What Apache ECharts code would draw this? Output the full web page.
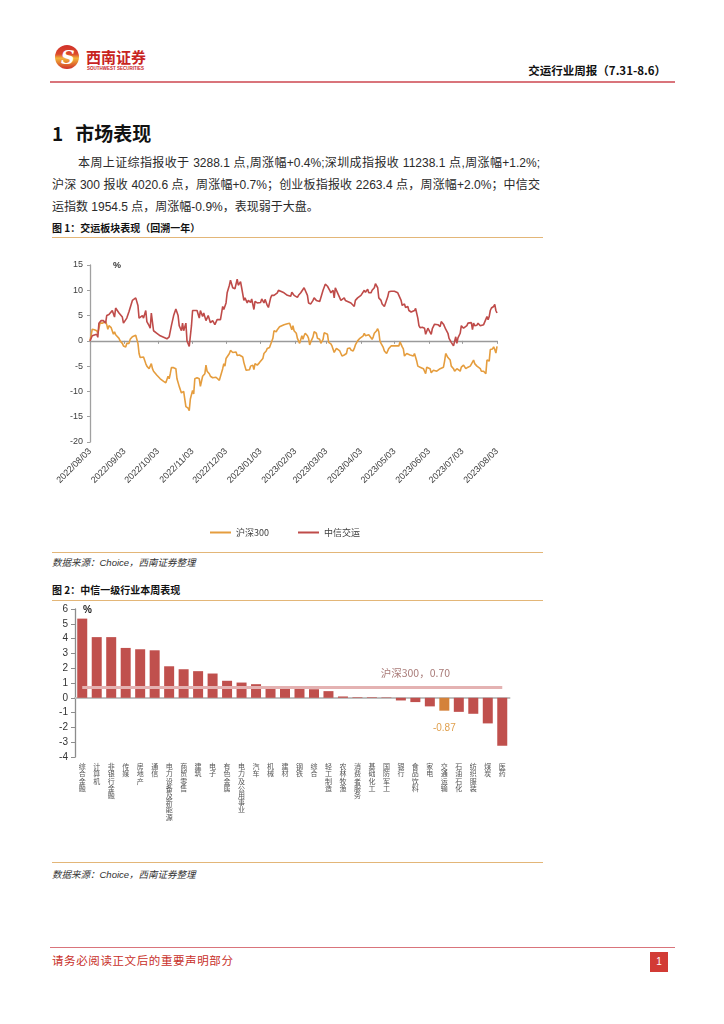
<!DOCTYPE html>
<html><head><meta charset="utf-8">
<script src="https://cdn.jsdelivr.net/npm/echarts@6/dist/echarts.min.js"></script>
<style>
html,body{margin:0;padding:0;background:#fff}
body{width:724px;height:1024px;position:relative;overflow:hidden;font-family:"Liberation Sans","Noto Sans CJK SC",sans-serif;color:#222}
.abs{position:absolute;white-space:nowrap}
.rule{position:absolute;height:0}
.cap{font-size:10px;font-weight:bold;color:#111;font-family:"Noto Sans CJK SC",sans-serif}
.src{font-size:9.5px;font-style:italic;color:#333}
.para{font-size:12px;color:#2a2a2a;line-height:22px}
.just{text-align:justify;text-align-last:justify;white-space:normal}
</style></head>
<body>
<!-- header logo -->
<div class="abs" style="left:55px;top:45px;width:24px;height:24px;border-radius:50%;background:linear-gradient(180deg,#D0302A 0%,#DC4A2C 38%,#F2B33C 55%,#E78A32 70%,#CF2F2A 100%)"></div>
<div class="abs" style="left:61px;top:46px;font-size:19px;font-weight:bold;color:#fff;font-family:'DejaVu Serif',serif;font-style:italic;line-height:22px">S</div>
<div class="abs" style="left:86px;top:47px;font-size:15px;font-weight:bold;color:#C8241E;font-family:'Noto Sans CJK SC';letter-spacing:0px;line-height:20px">西南证券</div>
<div class="abs" style="left:87px;top:66px;font-size:4.5px;font-weight:bold;color:#C8241E;line-height:6px">SOUTHWEST SECURITIES</div>
<div class="abs" style="right:58px;top:62px;font-size:11.5px;font-weight:bold;color:#111;font-family:'Noto Sans CJK SC';line-height:16px">交运行业周报（7.31-8.6）</div>
<div class="rule" style="left:50px;top:81px;width:625px;border-top:2px solid #D9747B"></div>

<div class="abs" style="left:52px;top:121px;font-size:19px;font-weight:bold;color:#111;font-family:'Noto Sans CJK SC';line-height:24px">1<span style="display:inline-block;width:12px"></span>市场表现</div>
<div class="abs para just" style="left:78px;top:152px;width:462px">本周上证综指报收于 3288.1 点,周涨幅+0.4%;深圳成指报收 11238.1 点,周涨幅+1.2%;</div>
<div class="abs para just" style="left:52px;top:174px;width:488px">沪深 300 报收 4020.6 点，周涨幅+0.7%；创业板指报收 2263.4 点，周涨幅+2.0%；中信交</div>
<div class="abs para" style="left:52px;top:196px">运指数 1954.5 点，周涨幅-0.9%，表现弱于大盘。</div>

<div class="abs cap" style="left:52px;top:220px;line-height:16px">图 1：交运板块表现（回溯一年）</div>
<div class="rule" style="left:52px;top:237px;width:491px;border-top:1.5px solid #E3B678"></div>
<div id="c1" class="abs" style="left:52px;top:240px;width:491px;height:312px"></div>
<div class="rule" style="left:52px;top:552px;width:491px;border-top:1.5px solid #E3B678"></div>
<div class="abs src" style="left:52px;top:556px;line-height:14px">数据来源：Choice，西南证券整理</div>

<div class="abs cap" style="left:52px;top:582px;line-height:16px">图 2：中信一级行业本周表现</div>
<div class="rule" style="left:52px;top:600px;width:491px;border-top:1.5px solid #E3B678"></div>
<div id="c2" class="abs" style="left:52px;top:602px;width:491px;height:258px"></div>
<div class="rule" style="left:52px;top:862px;width:491px;border-top:1.5px solid #E3B678"></div>
<div class="abs src" style="left:52px;top:868px;line-height:14px">数据来源：Choice，西南证券整理</div>

<div class="rule" style="left:50px;top:947px;width:625px;border-top:1.5px solid #D9747B"></div>
<div class="abs" style="left:52px;top:951px;font-size:11.5px;color:#C8302A;font-family:'Noto Sans CJK SC';line-height:18px;letter-spacing:0.6px">请务必阅读正文后的重要声明部分</div>
<div class="abs" style="left:650px;top:952px;width:18px;height:20px;background:#D23B35;color:#fff;font-size:10px;text-align:center;line-height:20px">1</div>

<script>
// ---------- Figure 1 data (x = calendar days after 2022/08/03, y = % change) ----------
const startYear = 2022, startMonth = 8, startDay = 3;
const dayCount = 366;
const seriesNames = ['沪深300', '中信交运'];
const yAxis1 = { min: -20, max: 15, interval: 5 };

const hs300 = [[0,0],[2,2.3],[3,2],[4,2.2],[6,2],[7,1.5],[8,2.5],[9,3.5],[11,3.5],[12,3.3],[14,3.8],[15,3.2],[16,2.3],[17,3],[19,2.6],[20,2.5],[21,1.3],[22,1.8],[23,1.2],[24,1],[26,0.5],[27,0],[29,-0.5],[30,-1],[32,-1.2],[33,-0.5],[35,-0.5],[36,0.3],[38,0.8],[39,1],[41,1.1],[43,-0.5],[44,-2.5],[45,-3.3],[46,-3.3],[48,-3.2],[50,-4.5],[51,-5],[53,-5.5],[54,-5.5],[55,-4.5],[56,-5.5],[57,-6],[60,-6.8],[63,-7.5],[66,-8],[68,-8.3],[69,-8.5],[70,-7],[71,-7.5],[72,-6.5],[73,-5.3],[75,-5.3],[77,-5.5],[78,-7.5],[79,-7.7],[80,-9],[82,-10.3],[83,-10.5],[84,-10],[85,-11.5],[86,-13],[88,-13.3],[89,-13.8],[90,-11.5],[92,-9.8],[93,-10.5],[94,-7.5],[96,-7.3],[98,-7.5],[99,-9],[100,-9.3],[101,-7],[102,-6.8],[103,-6.5],[104,-4.8],[105,-6],[107,-6.5],[108,-7],[110,-7.3],[111,-7.2],[113,-7.2],[114,-7.5],[116,-7.8],[117,-8],[119,-5.5],[120,-4.5],[121,-5],[122,-3.5],[123,-3.3],[125,-2.5],[126,-1.9],[128,-2.3],[129,-2.5],[131,-2.2],[132,-2.9],[134,-2.8],[135,-3],[137,-3.2],[138,-4.3],[140,-5.8],[141,-5.8],[143,-5.7],[144,-5],[146,-4.8],[147,-5.7],[148,-4.5],[150,-4.8],[152,-4.3],[153,-4.3],[155,-3.5],[156,-2.5],[158,-2],[159,-1.5],[161,-1.3],[162,-1.2],[164,0.5],[165,2],[167,1.8],[168,2.2],[170,2.8],[171,3.1],[174,3.2],[177,3.4],[179,3.5],[180,3.2],[181,2.2],[182,3],[183,2],[185,1.5],[186,0.5],[188,-0.5],[189,-0.2],[190,1],[191,0.3],[192,1],[193,1.5],[194,1.8],[195,1],[196,0.5],[197,-0.8],[198,-0.2],[200,0.8],[201,1.8],[203,1.5],[204,0.5],[206,0.3],[207,-0.5],[208,-0.8],[209,0.3],[210,1.6],[211,1.3],[213,1.3],[214,-0.3],[215,-0.5],[216,-0.6],[217,-1],[219,-2.3],[220,-2],[221,-1.5],[222,-1.8],[224,-2],[225,-2.5],[226,-3],[228,-2.8],[229,-3],[230,-2.5],[231,-1.5],[232,-1.2],[233,-1.4],[234,-1.8],[236,-2],[237,-1.5],[238,-0.8],[239,-0.5],[240,0],[242,0.5],[243,0.8],[245,1],[246,1.5],[247,1],[248,1.3],[250,1.2],[251,1],[253,0.3],[254,0.8],[255,1.5],[257,2],[258,2.4],[259,1.8],[260,0],[261,-0.5],[263,-1.3],[264,-2],[266,-2.5],[267,-2.4],[268,-1.5],[270,-1],[272,-1],[273,-0.9],[275,-1],[276,-1.3],[277,-1],[278,-0.2],[279,-0.5],[280,-1.2],[281,-1.6],[282,-3],[283,-3.2],[284,-2.5],[285,-2.2],[287,-2.8],[288,-2.6],[290,-3],[291,-2.5],[292,-2.8],[293,-4],[294,-5],[296,-5.2],[297,-5.3],[299,-5.5],[300,-6],[301,-6.5],[302,-5.2],[303,-5.3],[305,-5.5],[306,-6.3],[307,-6.6],[308,-5.8],[309,-5.5],[311,-6],[312,-5.8],[314,-5.5],[315,-5.4],[317,-5.2],[318,-4],[319,-2.5],[320,-2.7],[321,-3.3],[323,-3.8],[324,-5],[325,-5.2],[326,-5.5],[327,-6],[328,-6.2],[329,-5.5],[330,-5.8],[332,-6],[333,-5.2],[334,-5],[335,-4.8],[336,-4.5],[337,-5.5],[338,-5.7],[339,-5.2],[340,-5.5],[341,-5],[343,-4.2],[344,-3.8],[345,-4.5],[347,-5],[348,-5.3],[350,-5.5],[351,-6],[353,-6],[354,-6.3],[355,-6.5],[356,-3.8],[357,-3.5],[358,-4],[359,-1.7],[361,-1.6],[362,-1.2],[363,-1.7],[364,-2.4],[365,-1.1]];

const citicTransport = [[0,0],[2,1],[3,1.3],[6,1.3],[7,0.7],[8,3.5],[10,4],[12,4],[14,3.5],[15,5],[17,5.2],[20,6],[21,6.3],[22,4.7],[23,6.5],[26,5.5],[27,5.8],[29,4.7],[30,3.5],[33,4.5],[35,5.8],[38,8],[41,8.5],[42,8.7],[43,7],[44,4.5],[47,5],[48,4.5],[50,6],[51,3.8],[53,3],[54,2.5],[55,5.5],[57,2],[60,1.5],[63,1],[69,0.4],[71,0.8],[73,3],[75,5],[77,6.3],[79,5],[80,3],[82,2],[83,3.5],[84,2],[86,3.5],[87,0],[89,-1.1],[91,3],[92,6],[96,6],[98,4.5],[99,6],[101,4.8],[102,5.5],[104,4],[106,5],[108,3.6],[110,4],[112,3.2],[114,4.2],[117,4.2],[119,6.8],[120,6.2],[122,7.5],[123,9.5],[125,11],[126,12],[128,10.5],[130,10.3],[132,12.2],[133,11],[135,11.7],[136,10.5],[138,8],[139,8.5],[141,7.5],[142,8],[144,7.6],[145,8.3],[147,6.2],[148,7.8],[150,7.5],[153,7.6],[154,8.3],[156,7.5],[157,8.2],[159,7],[160,6.6],[162,8.5],[163,9],[165,9],[166,8.8],[168,9.5],[169,10],[171,9.8],[174,9.5],[177,9],[180,8.8],[181,9.6],[183,9],[184,8.8],[186,8.6],[187,9],[189,9.5],[192,10.5],[193,10.8],[195,9],[196,7.5],[197,7.6],[198,7.3],[200,8],[201,8.5],[203,8],[204,7.8],[206,7.8],[207,8],[209,10],[211,11.2],[213,10.8],[215,10],[216,9.5],[218,10],[219,8.5],[220,10.5],[222,9.5],[223,9],[225,8],[228,8.5],[229,8],[231,7.8],[232,8],[234,7.5],[235,7.2],[237,6.8],[238,8],[240,8.5],[243,9],[244,9.2],[246,10],[247,9.6],[249,10.2],[250,9.5],[252,9.5],[253,10],[255,10.5],[256,11.3],[258,10.5],[259,8.5],[261,8],[262,7.3],[264,6.8],[265,7],[267,8.7],[268,9.7],[270,9.8],[273,9.8],[276,9.5],[277,9.5],[279,8],[280,7],[282,7.3],[283,6.6],[285,6.8],[286,6],[288,5.7],[289,5.6],[291,6],[292,6.4],[294,4.5],[295,3],[296,2.6],[298,2.7],[300,2.5],[301,1.3],[303,2.5],[304,2.5],[306,1.3],[307,2.4],[309,3.3],[312,3.2],[314,2.8],[315,3.8],[317,3.3],[319,2.3],[321,1.5],[322,0.5],[324,-0.3],[326,-1],[328,0.8],[329,-0.5],[330,0.6],[332,1.5],[333,3],[335,2.5],[336,2.2],[338,3],[339,3.5],[340,3.3],[342,3.6],[343,2.2],[344,3.5],[345,3],[347,3.1],[348,3.5],[350,3],[351,3],[353,3.2],[354,3],[356,4.8],[357,4.2],[358,4.8],[359,6],[360,6.5],[362,6.8],[363,7.2],[364,6],[365,5.5]];

// ---------- Figure 2 data ----------
const industries = ['综合金融','计算机','非银行金融','传媒','房地产','通信','电力设备及新能源','商贸零售','建筑','电子','有色金属','电力及公用事业','汽车','机械','建材','钢铁','综合','轻工制造','农林牧渔','消费者服务','基础化工','国防军工','银行','食品饮料','家电','交通运输','石油石化','纺织服装','煤炭','医药'];
const weeklyChange = [5.35,4.1,4.1,3.37,3.28,3.21,2.13,1.93,1.8,1.64,1.15,1.03,0.92,0.75,0.72,0.63,0.58,0.45,0.09,0.04,0.04,0.03,-0.18,-0.29,-0.58,-0.87,-0.95,-1.08,-1.73,-3.24];
const highlightIndustry = '交通运输';
const benchmarkName = '沪深300';
const benchmarkValue = 0.70;
const yAxis2 = { min: -4, max: 6, interval: 1 };

// ---------- build ----------
function pad(n){ return String(n).padStart(2,'0'); }
const dates = [];
for (let i = 0; i < dayCount; i++) {
  const d = new Date(startYear, startMonth - 1, startDay + i);
  dates.push(d.getFullYear() + '/' + pad(d.getMonth() + 1) + '/' + pad(d.getDate()));
}
const isMonthTick = (idx, val) => dates[idx].endsWith('/' + pad(startDay));

const RED = '#BF4B49', ORANGE = '#E59D3E';
const c1 = echarts.init(document.getElementById('c1'), null, { renderer: 'canvas' });
c1.setOption({
  animation: false,
  grid: { left: 38, top: 25, width: 407, height: 177, containLabel: false },
  legend: {
    left: 153, top: 283, icon: 'rect', itemWidth: 21, itemHeight: 2, itemGap: 29,
    textStyle: { fontSize: 9, color: '#404040', fontFamily: 'Noto Sans CJK SC' },
    data: seriesNames
  },
  graphic: [{ type: 'text', left: 61, top: 21, style: { text: '%', fontSize: 9, fontWeight: 'bold', fill: '#333', fontFamily: 'Liberation Sans' } }],
  xAxis: [
    { type: 'category', data: dates, boundaryGap: false,
      axisLine: { show: false, onZero: false }, axisTick: { show: false },
      axisLabel: { interval: isMonthTick, rotate: 45, margin: 8, fontSize: 9, color: '#404040', fontFamily: 'Liberation Sans' } },
    { type: 'category', data: dates, boundaryGap: false, position: 'bottom',
      axisLine: { show: true, onZero: true, onZeroAxisIndex: 0, lineStyle: { color: '#9A9A9A', width: 1.3 } },
      axisTick: { show: true, interval: isMonthTick, length: 3, lineStyle: { color: '#9A9A9A' } },
      axisLabel: { show: false } }
  ],
  yAxis: {
    type: 'value', min: yAxis1.min, max: yAxis1.max, interval: yAxis1.interval,
    axisLine: { show: true, lineStyle: { color: '#A0A0A0', width: 1.3 } },
    axisTick: { show: true, length: 3, lineStyle: { color: '#A0A0A0' } },
    splitLine: { show: false },
    axisLabel: { margin: 7, fontSize: 9, color: '#404040', fontFamily: 'Liberation Sans' }
  },
  series: [
    { name: seriesNames[0], type: 'line', xAxisIndex: 0, data: hs300, showSymbol: false, symbol: 'none',
      lineStyle: { color: ORANGE, width: 1.6 }, itemStyle: { color: ORANGE } },
    { name: seriesNames[1], type: 'line', xAxisIndex: 0, data: citicTransport, showSymbol: false, symbol: 'none',
      lineStyle: { color: RED, width: 1.6 }, itemStyle: { color: RED } }
  ]
});

const BAR_RED = '#C0504D', BAR_ORANGE = '#D4823A';
const c2 = echarts.init(document.getElementById('c2'), null, { renderer: 'canvas' });
const hlIndex = industries.indexOf(highlightIndustry);
c2.setOption({
  animation: false,
  grid: { left: 23, top: 7, width: 434.5, height: 148, containLabel: false },
  graphic: [{ type: 'text', left: 31, top: 3, style: { text: '%', fontSize: 10, fontWeight: 'bold', fill: '#222', fontFamily: 'Liberation Sans' } }],
  xAxis: [
    { type: 'category', data: industries,
      axisLine: { show: false, onZero: false }, axisTick: { show: false },
      axisLabel: { interval: 0, margin: 6, fontSize: 7, lineHeight: 7.2, color: '#555', fontFamily: 'Noto Sans CJK SC',
        verticalAlign: 'top', formatter: v => v.split('').join('\n') } },
    { type: 'category', data: industries, position: 'bottom',
      axisLine: { show: true, onZero: true, onZeroAxisIndex: 0, lineStyle: { color: '#BFBFBF', width: 2 } },
      axisTick: { show: false }, axisLabel: { show: false } }
  ],
  yAxis: {
    type: 'value', min: yAxis2.min, max: yAxis2.max, interval: yAxis2.interval,
    axisLine: { show: true, lineStyle: { color: '#8C8C8C', width: 1.3 } },
    axisTick: { show: true, length: 4, lineStyle: { color: '#8C8C8C' } },
    splitLine: { show: false },
    axisLabel: { margin: 7, fontSize: 10, color: '#333', fontFamily: 'Liberation Sans' }
  },
  series: [{
    type: 'bar', xAxisIndex: 0, barWidth: 10,
    data: weeklyChange.map((v, i) => i === hlIndex
      ? { value: v, itemStyle: { color: BAR_ORANGE },
          label: { show: true, position: 'bottom', distance: 13, formatter: p => p.value.toFixed(2), color: '#E0A04E', fontSize: 10, fontFamily: 'Liberation Sans' } }
      : { value: v, itemStyle: { color: BAR_RED } }),
    markLine: {
      silent: true, symbol: 'none', label: { show: false },
      lineStyle: { color: '#E4B2B2', width: 3, type: 'solid' },
      data: [[{ coord: [0, benchmarkValue] }, { coord: [industries.length - 1, benchmarkValue] }]]
    },
    markPoint: {
      silent: true, symbol: 'rect', symbolSize: 0,
      data: [{ coord: [23, benchmarkValue], value: benchmarkValue }],
      label: { show: true, position: 'top', distance: 9, formatter: benchmarkName + '，' + benchmarkValue.toFixed(2),
        color: '#A97B78', fontSize: 10.5, fontFamily: 'Noto Sans CJK SC' }
    }
  }]
});
</script>
</body></html>
